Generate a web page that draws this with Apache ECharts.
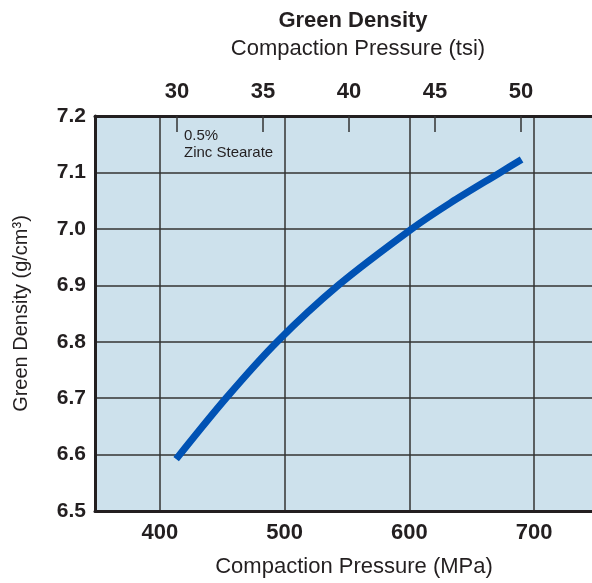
<!DOCTYPE html>
<html>
<head>
<meta charset="utf-8">
<script src="https://cdn.jsdelivr.net/npm/echarts@6/dist/echarts.min.js"></script>
<style>
  html, body { margin: 0; padding: 0; background: #ffffff; }
  #chart { width: 592px; height: 583px; }
</style>
</head>
<body>
<div id="chart"></div>
<script>
// Compaction curve: pressure (MPa) vs green density (g/cm3)
const pressureMPa = [413, 453, 494, 543, 602, 633, 673, 690];
const greenDensity = [6.592, 6.70, 6.80, 6.90, 7.00, 7.046, 7.10, 7.123];

// Tick labels
const mpaTicks = [400, 500, 600, 700];
const tsiTicks = [30, 35, 40, 45, 50];

// Unit conversion: 1 tsi = 13.7895 MPa
const MPA_PER_TSI = 13.7895;
const xMin = 347.9, xMax = 746.5;

const font = '"Liberation Sans", Arial, Helvetica, sans-serif';
const ink = '#231f20';

const chart = echarts.init(document.getElementById('chart'), null, { renderer: 'canvas' });

const option = {
  backgroundColor: '#ffffff',
  animation: false,
  grid: {
    left: 95, right: 0, top: 116, bottom: 72,
    show: true, backgroundColor: '#cde1ec', borderWidth: 0
  },
  graphic: [
    {
      type: 'text', x: 353, y: 10,
      style: { text: 'Green Density', font: 'bold 22px ' + font, fill: ink, textAlign: 'center' }
    },
    {
      type: 'text', x: 358, y: 38,
      style: { text: 'Compaction Pressure (tsi)', font: '22px ' + font, fill: ink, textAlign: 'center' }
    },
    {
      type: 'text', x: 354, y: 556,
      style: { text: 'Compaction Pressure (MPa)', font: '22px ' + font, fill: ink, textAlign: 'center' }
    },
    {
      type: 'text', x: 184, y: 127, z: 10,
      style: { text: '0.5%\nZinc Stearate', font: '15px ' + font, lineHeight: 17, fill: ink }
    }
  ],
  xAxis: [
    {
      type: 'value', position: 'bottom', min: xMin, max: xMax,
      axisLine: { show: true, lineStyle: { color: ink, width: 3 } },
      axisTick: { show: false, customValues: mpaTicks },
      axisLabel: {
        customValues: mpaTicks, margin: 11,
        fontFamily: font, fontWeight: 'bold', fontSize: 22, color: ink
      },
      splitLine: { show: true, lineStyle: { color: '#333333', width: 1.5 } }
    },
    {
      type: 'value', position: 'top', min: xMin / MPA_PER_TSI, max: xMax / MPA_PER_TSI,
      axisLine: { show: true, lineStyle: { color: ink, width: 3 } },
      axisTick: { show: true, inside: true, length: 16, customValues: tsiTicks,
        lineStyle: { color: '#333333', width: 1.5 } },
      axisLabel: {
        customValues: tsiTicks, margin: 13,
        fontFamily: font, fontWeight: 'bold', fontSize: 22, color: ink
      },
      splitLine: { show: false }
    }
  ],
  yAxis: {
    type: 'value', min: 6.5, max: 7.2, interval: 0.1,
    name: 'Green Density (g/cm³)', nameLocation: 'middle', nameGap: 64, nameRotate: 90,
    nameTextStyle: { fontFamily: font, fontSize: 20, color: ink },
    axisLine: { show: true, lineStyle: { color: ink, width: 3 } },
    axisTick: { show: false },
    axisLabel: {
      margin: 9, fontFamily: font, fontWeight: 'bold', fontSize: 21, color: ink,
      formatter: v => v.toFixed(1)
    },
    splitLine: { show: true, lineStyle: { color: '#333333', width: 1.5 } }
  },
  series: [
    {
      type: 'line', xAxisIndex: 0,
      data: pressureMPa.map((p, i) => [p, greenDensity[i]]),
      smooth: 0.3, showSymbol: false,
      lineStyle: { color: '#0052b4', width: 7, cap: 'butt' },
      z: 5
    }
  ]
};

chart.setOption(option);
</script>
</body>
</html>
